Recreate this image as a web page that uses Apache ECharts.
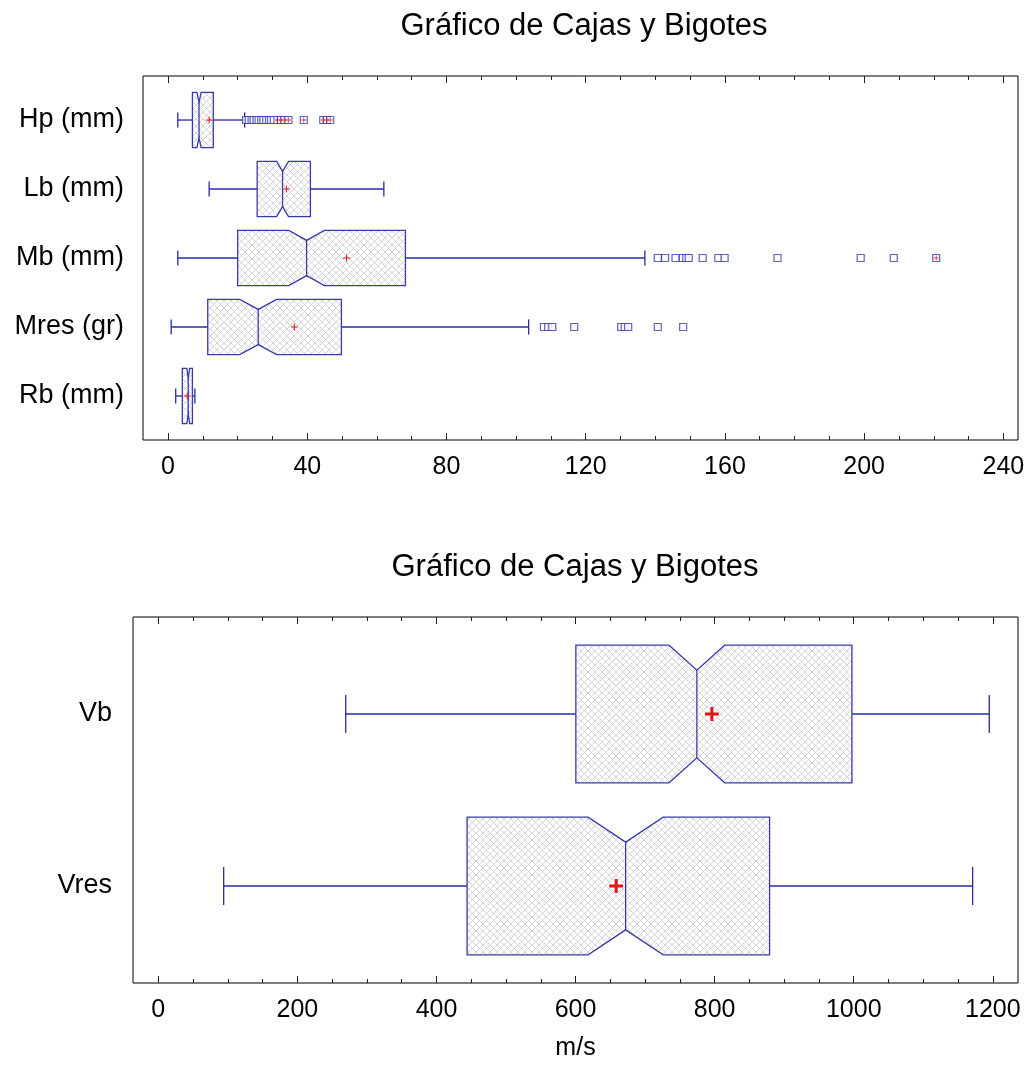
<!DOCTYPE html>
<html>
<head>
<meta charset="utf-8">
<script src="https://cdn.jsdelivr.net/npm/echarts@6.0.0/dist/echarts.min.js"></script>
<style>
  html, body { margin: 0; padding: 0; background: #ffffff; }
  #chart { width: 1028px; height: 1067px; }
</style>
</head>
<body>
<div id="chart"></div>
<script>
// ---- Upper panel: sizes and masses ----
const upperCategories = ['Hp (mm)', 'Lb (mm)', 'Mb (mm)', 'Mres (gr)', 'Rb (mm)'];
const upperLowWhisker  = [2.8, 11.8, 2.8, 0.9, 2.2];
const upperQ1          = [7.0, 25.6, 20.0, 11.4, 4.1];
const upperMedian      = [8.9, 32.9, 39.8, 25.9, 5.8];
const upperQ3          = [13.0, 40.9, 68.2, 49.8, 7.0];
const upperHighWhisker = [22.0, 62.0, 137.0, 103.6, 7.7];
const upperMean        = [11.8, 34.0, 51.3, 36.3, 5.5];
const upperNotchHalf   = [0.6, 1.7, 5.1, 5.3, 0.4];
const hpOutliers   = [22.4, 23.2, 24.0, 24.6, 25.4, 26.0, 26.8, 27.4, 28.2, 29.0, 29.6, 30.4, 31.4, 32.4, 33.4, 34.6, 39.0, 44.6, 45.6, 46.6];
const lbOutliers   = [];
const mbOutliers   = [140.7, 142.8, 145.8, 147.9, 148.9, 149.6, 153.6, 158.1, 159.9, 175.1, 199.0, 208.5, 220.7];
const mresOutliers = [108.0, 109.2, 110.4, 116.7, 130.2, 131.2, 132.2, 140.7, 148.0];
const rbOutliers   = [];
const upperTicks = [0, 40, 80, 120, 160, 200, 240];

// ---- Lower panel: velocities ----
const lowerCategories = ['Vb', 'Vres'];
const lowerLowWhisker  = [269.5, 94.0];
const lowerQ1          = [600.4, 444.0];
const lowerMedian      = [774.4, 672.0];
const lowerQ3          = [997.4, 879.0];
const lowerHighWhisker = [1194.9, 1171.0];
const lowerMean        = [796.0, 658.4];
const lowerNotchHalf   = [40.0, 54.0];
const lowerTicks = [0, 200, 400, 600, 800, 1000, 1200];

const BOX_BLUE = '#3a3aae';
const WHISKER_BLUE = '#2a2aa6';
const MEAN_RED = '#e3141c';
const FONT = '"Liberation Sans", Arial, sans-serif';

// Cross-hatch fill used inside the boxes
function hatchPattern() {
  const n = 7;
  const c = document.createElement('canvas');
  c.width = n; c.height = n;
  const g = c.getContext('2d');
  g.fillStyle = '#ffffff';
  g.fillRect(0, 0, n, n);
  g.strokeStyle = '#c4c4c4';
  g.lineWidth = 0.7;
  g.beginPath();
  g.moveTo(0, 0); g.lineTo(n, n);
  g.moveTo(n, 0); g.lineTo(0, n);
  g.stroke();
  return c;
}
const hatch = { image: hatchPattern(), repeat: 'repeat' };

function boxRows(low, q1, med, q3, high, mean, notch) {
  return low.map((_, i) => [i, low[i], q1[i], med[i], q3[i], high[i], mean[i], notch[i]]);
}

// Notched box, whiskers, caps and mean marker for one category
function makeBoxRenderer(meanHalf, meanWidth) {
  return function (params, api) {
    const cat = api.value(0);
    const unit = Math.abs(api.size([0, 1])[1]);
    const yc = api.coord([0, cat])[1];
    const X = v => api.coord([v, cat])[0];
    const h = 0.4 * unit, ni = 0.145 * unit, cap = 0.11 * unit;
    const xl = X(api.value(1)), xq1 = X(api.value(2)), xm = X(api.value(3));
    const xq3 = X(api.value(4)), xh = X(api.value(5)), xmean = X(api.value(6));
    const nh = api.value(7);
    const xn1 = Math.max(X(api.value(3) - nh), xq1);
    const xn2 = Math.min(X(api.value(3) + nh), xq3);
    const top = yc - h, bot = yc + h;
    const pts = [
      [xq1, top], [xn1, top], [xm, top + ni], [xn2, top], [xq3, top],
      [xq3, bot], [xn2, bot], [xm, bot - ni], [xn1, bot], [xq1, bot]
    ];
    const wStyle = { stroke: WHISKER_BLUE, lineWidth: 1.3 };
    return {
      type: 'group',
      children: [
        { type: 'line', shape: { x1: xl, y1: yc, x2: xq1, y2: yc }, style: wStyle },
        { type: 'line', shape: { x1: xq3, y1: yc, x2: xh, y2: yc }, style: wStyle },
        { type: 'line', shape: { x1: xl, y1: yc - cap, x2: xl, y2: yc + cap }, style: wStyle },
        { type: 'line', shape: { x1: xh, y1: yc - cap, x2: xh, y2: yc + cap }, style: wStyle },
        { type: 'polygon', shape: { points: pts }, style: { fill: hatch, stroke: BOX_BLUE, lineWidth: 1.3 } },
        { type: 'line', shape: { x1: xm, y1: top + ni, x2: xm, y2: bot - ni }, style: { stroke: BOX_BLUE, lineWidth: 1.3 } },
        { type: 'line', shape: { x1: xmean - meanHalf, y1: yc, x2: xmean + meanHalf, y2: yc }, style: { stroke: MEAN_RED, lineWidth: meanWidth } },
        { type: 'line', shape: { x1: xmean, y1: yc - meanHalf, x2: xmean, y2: yc + meanHalf }, style: { stroke: MEAN_RED, lineWidth: meanWidth } }
      ]
    };
  };
}

// Outlier points; those beyond 3 IQR of the box get a red cross
const upperOutlierLists = [hpOutliers, lbOutliers, mbOutliers, mresOutliers, rbOutliers];
const outlierPts = [], farPts = [];
upperOutlierLists.forEach((list, i) => {
  const iqr = upperQ3[i] - upperQ1[i];
  list.forEach(v => {
    outlierPts.push([v, i]);
    if (v > upperQ3[i] + 3 * iqr || v < upperQ1[i] - 3 * iqr) farPts.push([v, i]);
  });
});

function range(a, b, step) { const r = []; for (let v = a; v <= b + 1e-9; v += step) r.push(v); return r; }
const upperMinor = range(0, 240, 10);
const lowerMinor = range(0, 1200, 50);

const tickColor = '#222';
function xAxes(gridIndex, min, max, major, minor, name) {
  const base = {
    type: 'value', gridIndex, min, max,
    axisLine: { show: false, onZero: false }, splitLine: { show: false }
  };
  return [
    Object.assign({}, base, {
      position: 'bottom',
      axisTick: { show: true, inside: true, length: 7, customValues: major, lineStyle: { color: tickColor, width: 1 } },
      axisLabel: {
        show: true, customValues: major, margin: 15, fontSize: 25, color: '#000', fontFamily: FONT,
        formatter: v => String(v)
      },
      name: name || '', nameLocation: 'middle', nameGap: 53,
      nameTextStyle: { fontSize: 25, color: '#000', fontFamily: FONT }
    }),
    Object.assign({}, base, {
      position: 'bottom',
      axisTick: { show: true, inside: true, length: 4, customValues: minor, lineStyle: { color: tickColor, width: 1 } },
      axisLabel: { show: false }
    }),
    Object.assign({}, base, {
      position: 'top',
      axisTick: { show: true, inside: true, length: 7, customValues: major, lineStyle: { color: tickColor, width: 1 } },
      axisLabel: { show: false }
    }),
    Object.assign({}, base, {
      position: 'top',
      axisTick: { show: true, inside: true, length: 4, customValues: minor, lineStyle: { color: tickColor, width: 1 } },
      axisLabel: { show: false }
    })
  ];
}

const chart = echarts.init(document.getElementById('chart'), null, { renderer: 'canvas' });
const titleText = 'Gráfico de Cajas y Bigotes';

chart.setOption({
  animation: false,
  backgroundColor: '#ffffff',
  graphic: [
    { type: 'text', x: 584, y: 26, style: { text: titleText, font: '31px ' + FONT, fill: '#000', align: 'center', verticalAlign: 'middle' } },
    { type: 'text', x: 575, y: 567, style: { text: titleText, font: '31px ' + FONT, fill: '#000', align: 'center', verticalAlign: 'middle' } }
  ],
  grid: [
    { left: 143, right: 10, top: 76, height: 364, show: true, borderColor: '#000', borderWidth: 1, backgroundColor: 'transparent' },
    { left: 133, right: 10, top: 617, height: 366, show: true, borderColor: '#000', borderWidth: 1, backgroundColor: 'transparent' }
  ],
  xAxis: [].concat(
    xAxes(0, -7.2, 244.2, upperTicks, upperMinor),
    xAxes(1, -36.4, 1236.2, lowerTicks, lowerMinor, 'm/s')
  ),
  yAxis: [
    {
      type: 'value', gridIndex: 0, inverse: true, min: -0.638, max: 4.638,
      axisLine: { show: false, onZero: false }, axisTick: { show: false }, splitLine: { show: false },
      axisLabel: {
        customValues: [0, 1, 2, 3, 4], margin: 19, fontSize: 27, color: '#000', fontFamily: FONT,
        formatter: v => upperCategories[Math.round(v)]
      }
    },
    {
      type: 'value', gridIndex: 1, inverse: true, min: -0.564, max: 1.564,
      axisLine: { show: false, onZero: false }, axisTick: { show: false }, splitLine: { show: false },
      axisLabel: {
        customValues: [0, 1], margin: 21, fontSize: 27, color: '#000', fontFamily: FONT,
        formatter: v => lowerCategories[Math.round(v)]
      }
    }
  ],
  series: [
    {
      type: 'custom', xAxisIndex: 0, yAxisIndex: 0,
      renderItem: makeBoxRenderer(3.5, 1),
      encode: { x: [1, 2, 3, 4, 5], y: 0 },
      data: boxRows(upperLowWhisker, upperQ1, upperMedian, upperQ3, upperHighWhisker, upperMean, upperNotchHalf)
    },
    {
      type: 'scatter', xAxisIndex: 0, yAxisIndex: 0,
      symbol: 'rect', symbolSize: 7,
      itemStyle: { color: '#ffffff', borderColor: BOX_BLUE, borderWidth: 1.2 },
      data: outlierPts, z: 3
    },
    {
      type: 'scatter', xAxisIndex: 0, yAxisIndex: 0,
      symbol: 'path://M2,0H3V2H5V3H3V5H2V3H0V2H2Z', symbolSize: 5,
      itemStyle: { color: MEAN_RED },
      data: farPts, z: 4
    },
    {
      type: 'custom', xAxisIndex: 4, yAxisIndex: 1,
      renderItem: makeBoxRenderer(7, 3),
      encode: { x: [1, 2, 3, 4, 5], y: 0 },
      data: boxRows(lowerLowWhisker, lowerQ1, lowerMedian, lowerQ3, lowerHighWhisker, lowerMean, lowerNotchHalf)
    }
  ]
});
</script>
</body>
</html>
